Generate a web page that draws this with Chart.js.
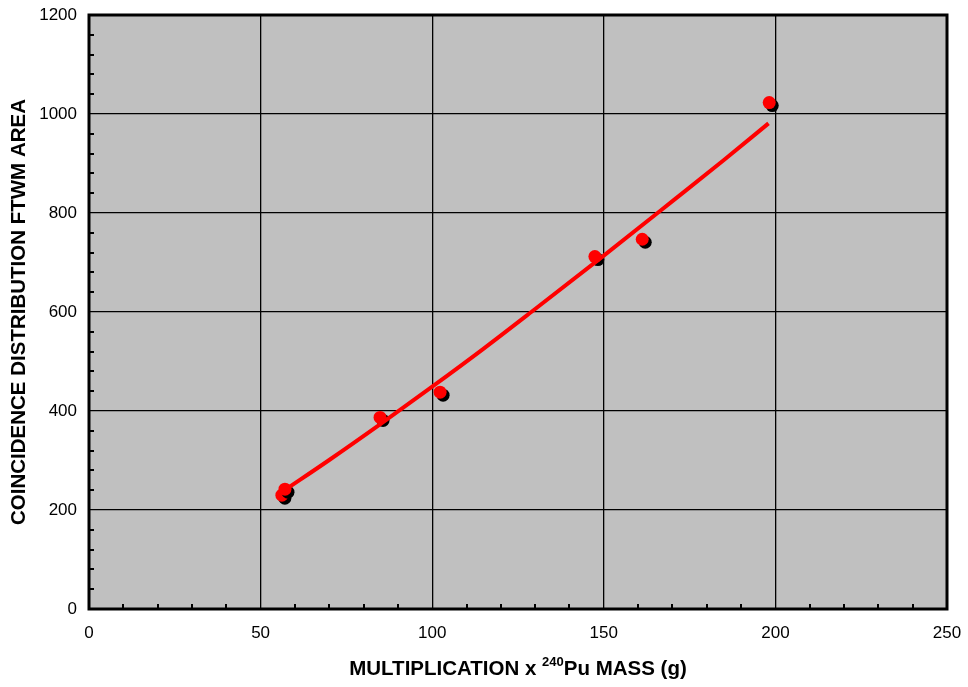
<!DOCTYPE html>
<html>
<head>
<meta charset="utf-8">
<script src="https://cdn.jsdelivr.net/npm/chart.js@4/dist/chart.umd.min.js"></script>
<style>
  html, body { margin: 0; padding: 0; background: #fff; }
  #wrap { width: 968px; height: 687px; }
</style>
</head>
<body>
<div id="wrap"><canvas id="chart"></canvas></div>
<script>
// measured points (multiplication x 240Pu mass vs FTWM area)
const massX = [56.2, 57.1, 84.8, 102.3, 147.4, 161.2, 198.2];
const areaY = [230, 242, 387, 438, 712, 747, 1023];

// fitted curve
const fitX = [57, 70, 85, 100, 115, 130, 150, 170, 185, 198];
const fitY = [240, 301, 374, 449, 526, 606, 714, 824, 907, 981];

const xTicks = [0, 50, 100, 150, 200, 250];
const yTicks = [0, 200, 400, 600, 800, 1000, 1200];

const xTitle = ['MULTIPLICATION x ', '240', 'Pu MASS (g)'];
const yTitle = 'COINCIDENCE DISTRIBUTION FTWM AREA';

const FONT = '"Liberation Sans", Arial, sans-serif';

const points = massX.map((x, i) => ({x, y: areaY[i]}));
const fit = fitX.map((x, i) => ({x, y: fitY[i]}));

// gray plot background, frame, inner minor ticks, x title with superscript
const frame = {
  id: 'frame',
  beforeDraw(c){
    const a = c.chartArea, ctx = c.ctx;
    ctx.save();
    ctx.fillStyle = '#c0c0c0';
    ctx.fillRect(a.left, a.top, a.right - a.left, a.bottom - a.top);
    ctx.restore();
  },
  beforeDatasetDraw(c, args){
    if(args.index !== 1) return;
    const ctx = c.ctx;
    ctx.save();
    ctx.shadowColor = '#000';
    ctx.shadowOffsetX = 3;
    ctx.shadowOffsetY = 3;
    ctx.shadowBlur = 0;
  },
  afterDatasetDraw(c, args){
    if(args.index !== 1) return;
    c.ctx.restore();
  },
  afterDraw(c){
    const a = c.chartArea, ctx = c.ctx;
    const sx = c.scales.x, sy = c.scales.y;
    ctx.save();
    ctx.strokeStyle = '#000';
    ctx.lineWidth = 2;
    for(let v = 10; v < 250; v += 10){
      if(v % 50 === 0) continue;
      const px = Math.round(sx.getPixelForValue(v));
      ctx.beginPath();
      ctx.moveTo(px, a.bottom);
      ctx.lineTo(px, a.bottom - 5);
      ctx.stroke();
    }
    for(let v = 40; v < 1200; v += 40){
      if(v % 200 === 0) continue;
      const py = Math.round(sy.getPixelForValue(v));
      ctx.beginPath();
      ctx.moveTo(a.left, py);
      ctx.lineTo(a.left + 5, py);
      ctx.stroke();
    }
    ctx.lineWidth = 3;
    ctx.strokeRect(a.left, a.top, a.right - a.left, a.bottom - a.top);

    // x axis title
    const big = 'bold 20.5px ' + FONT, small = 'bold 13px ' + FONT;
    ctx.fillStyle = '#000';
    ctx.textBaseline = 'alphabetic';
    ctx.font = big;
    const w0 = ctx.measureText(xTitle[0]).width;
    const w2 = ctx.measureText(xTitle[2]).width;
    ctx.font = small;
    const w1 = ctx.measureText(xTitle[1]).width;
    let x = (a.left + a.right) / 2 - (w0 + w1 + w2) / 2;
    const base = 675;
    ctx.font = big;
    ctx.fillText(xTitle[0], x, base);
    x += w0;
    ctx.font = small;
    ctx.fillText(xTitle[1], x, base - 9);
    x += w1;
    ctx.font = big;
    ctx.fillText(xTitle[2], x, base);
    ctx.restore();
  }
};

new Chart(document.getElementById('chart'), {
  data: {
    datasets: [
      {
        type: 'line',
        data: fit,
        borderColor: '#ff0000',
        borderWidth: 4,
        pointRadius: 0,
        cubicInterpolationMode: 'monotone',
        fill: false,
        order: 0
      },
      {
        type: 'scatter',
        data: points,
        backgroundColor: '#ff0000',
        borderColor: '#ff0000',
        borderWidth: 0,
        pointRadius: 6.5,
        order: 1
      }
    ]
  },
  options: {
    responsive: true,
    maintainAspectRatio: false,
    animation: false,
    layout: { padding: { top: 15, right: 21, bottom: 0, left: 0 } },
    plugins: { legend: { display: false }, tooltip: { enabled: false } },
    scales: {
      x: {
        type: 'linear',
        min: 0, max: 250,
        afterBuildTicks: s => { s.ticks = xTicks.map(v => ({value: v})); },
        afterFit: s => { s.height = 78; s.paddingLeft = 0; s.paddingRight = 0; },
        grid: { color: '#000', lineWidth: 1.3, drawTicks: false },
        border: { display: false },
        ticks: { color: '#000', padding: 14, font: { family: FONT, size: 17 }, maxRotation: 0,
                 callback: v => String(v) },
        title: { display: false }
      },
      y: {
        type: 'linear',
        min: 0, max: 1200,
        afterBuildTicks: s => { s.ticks = yTicks.map(v => ({value: v})); },
        afterFit: s => { s.width = 89; s.paddingTop = 0; s.paddingBottom = 0; },
        grid: { color: '#000', lineWidth: 1.3, drawTicks: false },
        border: { display: false },
        ticks: { color: '#000', padding: 12, font: { family: FONT, size: 17 },
                 callback: v => String(v) },
        title: {
          display: true,
          text: yTitle,
          color: '#000',
          font: { family: FONT, size: 20.5, weight: 'bold' },
          padding: { top: 7, bottom: 0 }
        }
      }
    }
  },
  plugins: [frame]
});
</script>
</body>
</html>
